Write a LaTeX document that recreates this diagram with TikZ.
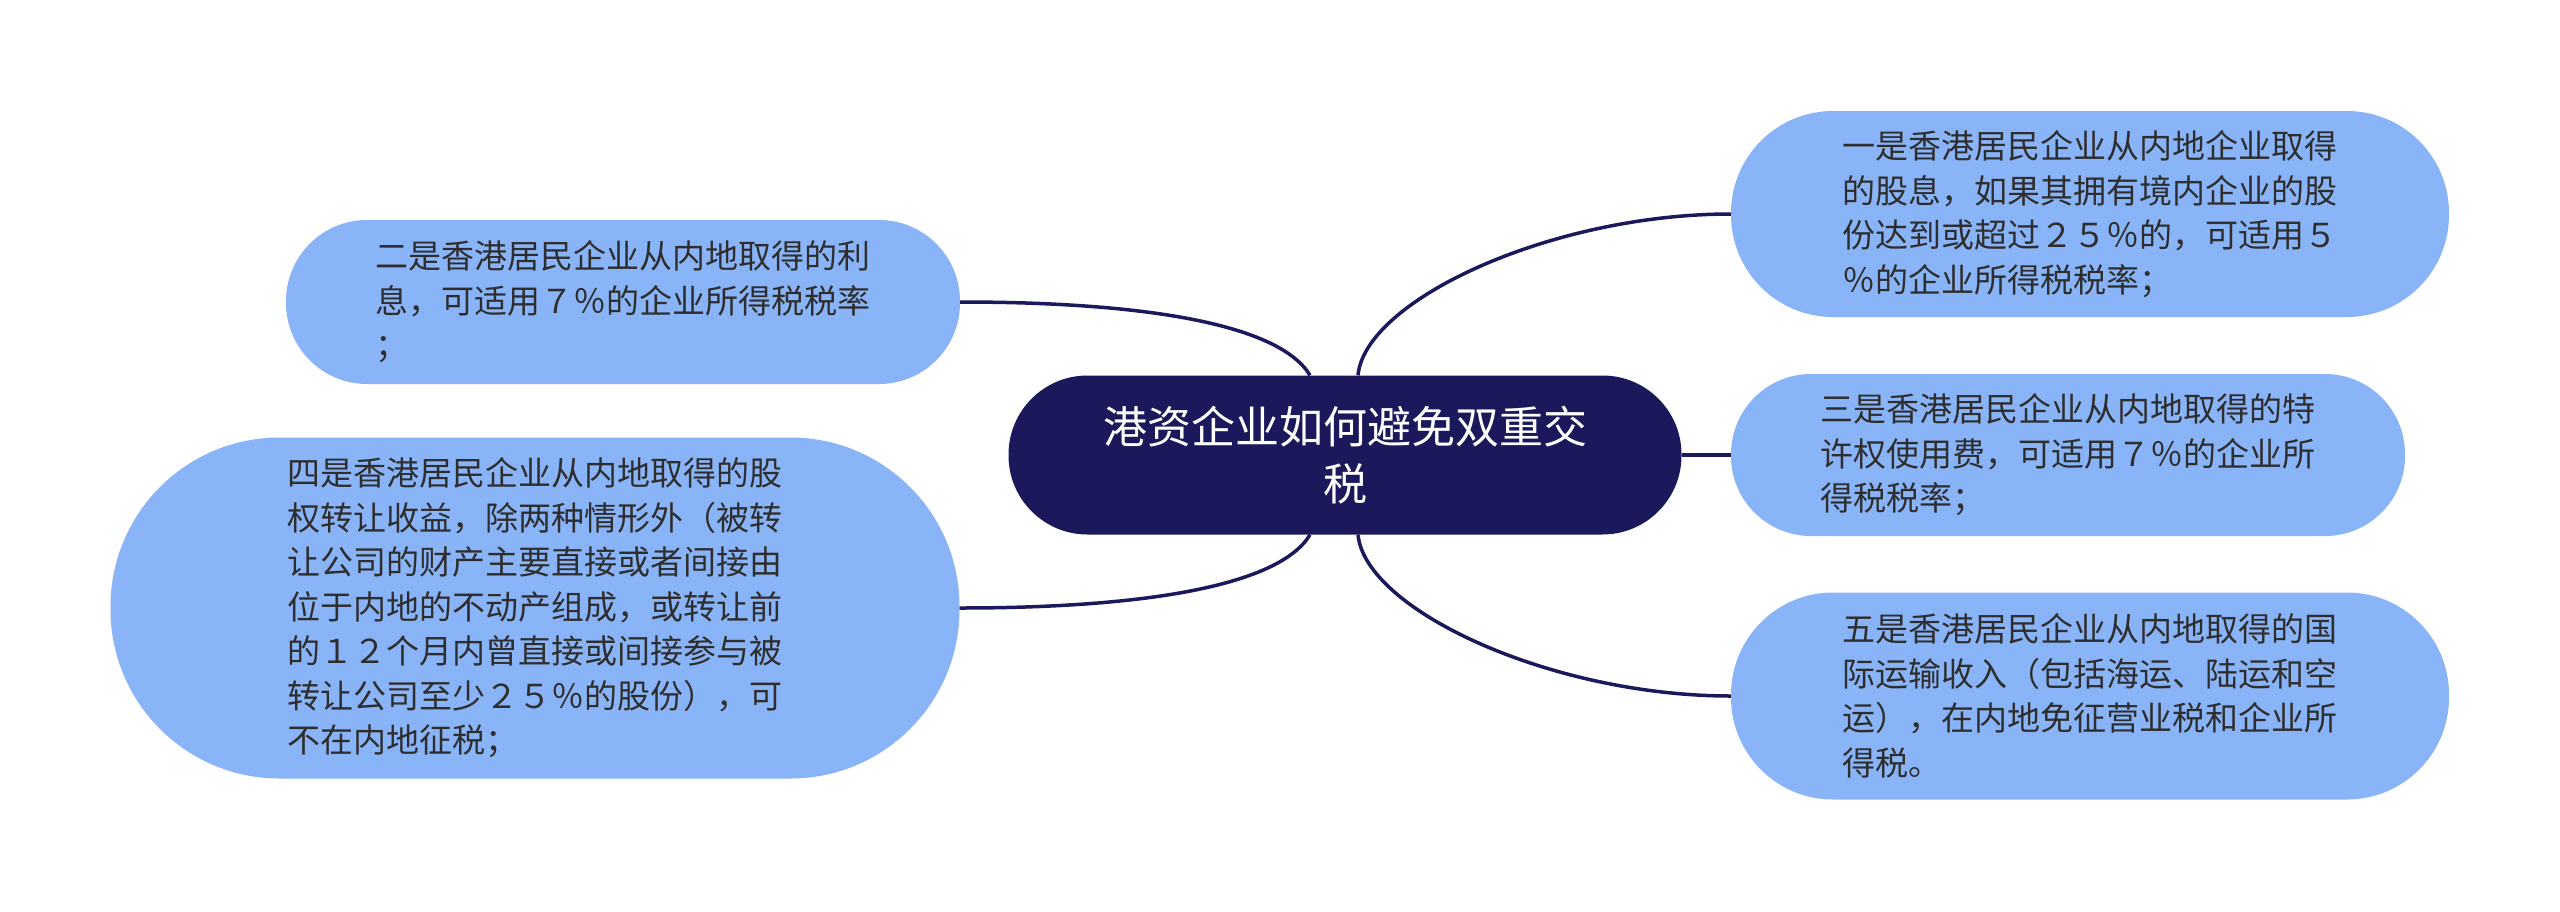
\documentclass[tikz,border=0pt]{standalone}
\usepackage{fontspec}
\setmainfont{Noto Sans CJK SC}
\usepackage{tikz}

\definecolor{navy}{HTML}{1B195B}
\definecolor{sky}{HTML}{8AB4F8}
\definecolor{ink}{HTML}{2E2E2E}

\begin{document}
\begin{tikzpicture}[x=1pt,y=-1pt,
	topic/.style={fill=navy, text=white, rounded corners=79pt, minimum width=673pt, minimum height=159pt, inner sep=0pt, align=center, font=\fontsize{44}{57}\selectfont},
	leaf/.style={fill=sky, text=ink, inner sep=0pt, text width=495pt, align=left, font=\fontsize{33}{44.5}\selectfont},
	branch/.style={draw=navy, line width=3.5pt}]

	\path[use as bounding box, fill=white] (0,0) rectangle (2560,911);

	% Central topic
	\node[topic] (c) at (1345,455) {港资企业如何避免双重交\\税};

	% Right side
	\node[leaf, minimum width=718pt, minimum height=206pt, rounded corners=102pt] (n1) at (2090,214) {一是香港居民企业从内地企业取得\\的股息，如果其拥有境内企业的股\\份达到或超过２５％的，可适用５\\％的企业所得税税率；};
	\node[leaf, minimum width=674pt, minimum height=162pt, rounded corners=80pt] (n3) at (2068,455) {三是香港居民企业从内地取得的特\\许权使用费，可适用７％的企业所\\得税税率；};
	\node[leaf, minimum width=718pt, minimum height=207pt, rounded corners=102pt] (n5) at (2090,696) {五是香港居民企业从内地取得的国\\际运输收入（包括海运、陆运和空\\运），在内地免征营业税和企业所\\得税。};

	% Left side
	\node[leaf, minimum width=674pt, minimum height=164pt, rounded corners=81pt] (n2) at (623,302) {二是香港居民企业从内地取得的利\\息，可适用７％的企业所得税税率\\；};
	\node[leaf, minimum width=849pt, minimum height=341pt, rounded corners=169pt] (n4) at (535,608) {四是香港居民企业从内地取得的股\\权转让收益，除两种情形外（被转\\让公司的财产主要直接或者间接由\\位于内地的不动产组成，或转让前\\的１２个月内曾直接或间接参与被\\转让公司至少２５％的股份），可\\不在内地征税；};

	% Branches
	\draw[branch] ([xshift=13pt]c.north) .. controls +(7,-75) and +(-180,0) .. (n1.west);
	\draw[branch] (c.east) -- (n3.west);
	\draw[branch] ([xshift=13pt]c.south) .. controls +(7,75) and +(-180,0) .. (n5.west);
	\draw[branch] ([xshift=-35pt]c.north) .. controls +(-30,-50) and +(190,0) .. (n2.east);
	\draw[branch] ([xshift=-35pt]c.south) .. controls +(-30,50) and +(190,0) .. (n4.east);

\end{tikzpicture}
\end{document}
